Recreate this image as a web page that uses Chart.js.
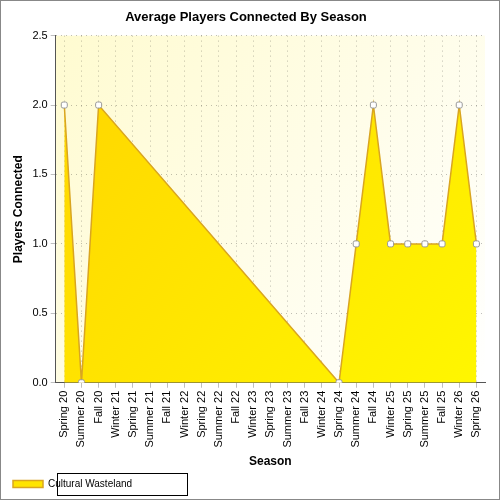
<!DOCTYPE html>
<html><head><script src="https://cdn.jsdelivr.net/npm/chart.js@4"></script>
<style>body{margin:0;background:#fff}#wrap{width:500px;height:500px;border:1px solid #888;box-sizing:border-box}</style>
</head><body><div id="wrap"><canvas id="c" width="498" height="498"></canvas></div>
<script>
const seasons = ["Spring 20","Summer 20","Fall 20","Winter 21","Spring 21","Summer 21","Fall 21","Winter 22","Spring 22","Summer 22","Fall 22","Winter 23","Spring 23","Summer 23","Fall 23","Winter 24","Spring 24","Summer 24","Fall 24","Winter 25","Spring 25","Summer 25","Fall 25","Winter 26","Spring 26"];
const players = [2,0,2,null,null,null,null,null,null,null,null,null,null,null,null,null,0,1,2,1,1,1,1,2,1];

const bgPlugin = {
  id: "bg",
  beforeDraw(chart) {
    const { ctx, chartArea: a } = chart;
    const g = ctx.createLinearGradient(a.left, a.top, a.right, a.bottom);
    g.addColorStop(0, "#fffbd0");
    g.addColorStop(1, "#ffffff");
    ctx.save();
    ctx.fillStyle = g;
    ctx.fillRect(a.left, a.top, a.right - a.left, a.bottom - a.top);
    ctx.restore();
  },
  afterDraw(chart) {
    // box around the legend
    const l = chart.legend;
    const ctx = chart.ctx;
    ctx.save();
    ctx.strokeStyle = "#000";
    ctx.lineWidth = 1;
    ctx.strokeRect(l.left + 50.5, l.top + 0.5, 130, l.height - 4);
    ctx.restore();
  },
};

new Chart(document.getElementById("c"), {
  type: "line",
  plugins: [bgPlugin],
  data: {
    labels: seasons,
    datasets: [{
      label: "Cultural Wasteland",
      data: players,
      spanGaps: true,
      tension: 0,
      borderColor: "#d9a520",
      borderWidth: 1.5,
      pointBackgroundColor: "#ffffff",
      pointBorderColor: "#999",
      pointBorderWidth: 1,
      pointStyle: "rectRounded",
      pointRadius: 3.5,
      fill: "origin",
      backgroundColor: (ctx) => {
        const a = ctx.chart.chartArea;
        if (!a) return "#ffe000";
        const g = ctx.chart.ctx.createLinearGradient(a.left, a.top, a.right, a.bottom);
        g.addColorStop(0, "#ffd400");
        g.addColorStop(1, "#fff700");
        return g;
      },
    }],
  },
  options: {
    responsive: false,
    animation: false,
    layout: { padding: { left: 6, right: 14, top: 0, bottom: 0 } },
    plugins: {
      title: { display: true, text: "Average Players Connected By Season", color: "#000", font: { family: "Arial", size: 13, weight: "bold" }, padding: { top: 9, bottom: 10 } },
      legend: { position: "bottom", align: "start", labels: { color: "#000", padding: 6, font: { family: "Arial", size: 10 }, boxWidth: 30, boxHeight: 7 } },
    },
    scales: {
      x: {
        offset: true,
        title: { display: true, text: "Season", color: "#000", font: { family: "Arial", size: 12, weight: "bold" } },
        ticks: { color: "#000", font: { family: "Arial", size: 11 }, maxRotation: 90, minRotation: 90, autoSkip: false },
        grid: { color: "rgba(0,0,0,0.25)", tickLength: 5 },
        border: { color: "#555", dash: [1, 4] },
      },
      y: {
        min: 0, max: 2.5,
        title: { display: true, text: "Players Connected", color: "#000", font: { family: "Arial", size: 12, weight: "bold" } },
        ticks: { color: "#000", stepSize: 0.5, font: { family: "Arial", size: 11 }, callback: (v) => v.toFixed(1) },
        grid: { color: "rgba(0,0,0,0.25)", tickLength: 5 },
        border: { color: "#555", dash: [1, 4] },
      },
    },
  },
});
</script></body></html>
